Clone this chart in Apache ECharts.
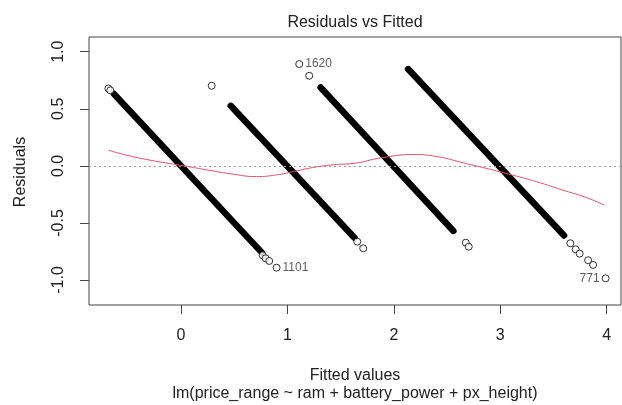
<!DOCTYPE html>
<html>
<head>
<meta charset="utf-8">
<script src="https://cdn.jsdelivr.net/npm/echarts@6/dist/echarts.min.js"></script>
<style>
  html, body { margin: 0; padding: 0; background: #fff; }
  #chart { width: 622px; height: 405px; }
</style>
</head>
<body>
<div id="chart"></div>
<script>
// tick labels
var xTicks = [0, 1, 2, 3, 4];
var yTicks = [-1.0, -0.5, 0.0, 0.5, 1.0];

// dense, overplotted runs of residuals: [fitted, residual] start / end
var run0 = [[-0.63, 0.63], [0.76, -0.76]];
var run1 = [[0.467, 0.526], [1.63, -0.63]];
var run2 = [[1.312, 0.687], [2.56, -0.57]];
var run3 = [[2.134, 0.848], [3.60, -0.61]];

// single circles that stand out at the run ends
var pointFitted = [-0.683, -0.665, 0.767, 0.795, 0.829, 0.288, 1.656, 1.712,
                   1.205, 2.676, 2.704, 3.659, 3.709, 3.746, 3.826, 3.873];
var pointResid  = [0.678, 0.662, -0.783, -0.81, -0.833, 0.702, -0.664, -0.722,
                   0.789, -0.673, -0.708, -0.678, -0.731, -0.769, -0.827, -0.868];

// labelled observations
var idNames  = ['1620', '1101', '771'];
var idFitted = [1.111, 0.898, 3.99];
var idResid  = [0.892, -0.892, -0.985];
var idSide   = ['right', 'right', 'left'];

// lowess smoother
var smoothFitted = [-0.683, -0.54, -0.291, -0.009, 0.241, 0.491, 0.71, 0.898, 1.055,
                    1.274, 1.462, 1.587, 1.90, 2.18, 2.40, 2.68, 2.90, 3.12, 3.34, 3.59, 3.81, 3.98];
var smoothResid  = [0.138, 0.10, 0.05, 0.006, -0.035, -0.073, -0.094, -0.079, -0.05,
                    -0.009, 0.012, 0.018, 0.073, 0.099, 0.082, 0.02, -0.029, -0.082, -0.138, -0.213, -0.278, -0.345];

var chart = echarts.init(document.getElementById('chart'));

var font = 'Liberation Sans';
var pts = pointFitted.map(function (x, i) { return [x, pointResid[i]]; });
var ids = idNames.map(function (n, i) {
    return {
        value: [idFitted[i], idResid[i]],
        label: { show: true, position: idSide[i], formatter: n, distance: 2,
                 color: '#333', fontSize: 12, fontFamily: font }
    };
});
var smooth = smoothFitted.map(function (x, i) { return [x, smoothResid[i]]; });

function runSeries(run) {
    return {
        type: 'line', data: run, symbol: 'none', silent: true,
        lineStyle: { color: '#000', width: 6.5, cap: 'round' }, z: 3
    };
}

function textEl(x, y, str, rot) {
    return { type: 'text', x: x, y: y, rotation: rot || 0,
             style: { text: str, fill: '#222', font: '16px Liberation Sans',
                      textAlign: 'center', textVerticalAlign: 'middle' } };
}

var option = {
    animation: false,
    grid: { left: 89, right: 1, top: 37, bottom: 100, show: true, borderColor: '#444', borderWidth: 1 },
    xAxis: {
        type: 'value', min: -0.865, max: 4.135,
        axisLine: { show: false, onZero: false },
        splitLine: { show: false },
        axisTick: { show: true, length: 9, customValues: xTicks, lineStyle: { color: '#444' } },
        axisLabel: { customValues: xTicks, margin: 23, color: '#222', fontSize: 16, fontFamily: font,
                     formatter: function (v) { return String(v); } }
    },
    yAxis: {
        type: 'value', min: -1.219, max: 1.129,
        axisLine: { show: false, onZero: false },
        splitLine: { show: false },
        axisTick: { show: true, length: 9, customValues: yTicks, lineStyle: { color: '#444' } },
        axisLabel: { customValues: yTicks, margin: 22, rotate: 90, color: '#222', fontSize: 16, fontFamily: font,
                     formatter: function (v) { return v.toFixed(1); } }
    },
    graphic: [
        textEl(355, 23, 'Residuals vs Fitted'),
        textEl(355, 376, 'Fitted values'),
        textEl(355, 394, 'lm(price_range ~ ram + battery_power + px_height)'),
        textEl(21, 172, 'Residuals', Math.PI / 2)
    ],
    series: [
        {
            type: 'line', data: [], symbol: 'none',
            markLine: {
                silent: true, symbol: 'none', label: { show: false },
                lineStyle: { color: '#999', type: [2, 3], width: 1 },
                data: [{ yAxis: 0 }]
            }
        },
        runSeries(run0), runSeries(run1), runSeries(run2), runSeries(run3),
        {
            type: 'scatter', data: pts, symbol: 'circle', symbolSize: 7,
            itemStyle: { color: '#fff', borderColor: '#000', borderWidth: 1 }, z: 4
        },
        {
            type: 'scatter', data: ids, symbol: 'circle', symbolSize: 7,
            itemStyle: { color: '#fff', borderColor: '#000', borderWidth: 1 }, z: 4
        },
        {
            type: 'line', data: smooth, symbol: 'none', smooth: true,
            lineStyle: { color: '#DF536B', width: 1 }, z: 5
        }
    ]
};
chart.setOption(option);
window.onresize = chart.resize;
</script>
</body>
</html>
